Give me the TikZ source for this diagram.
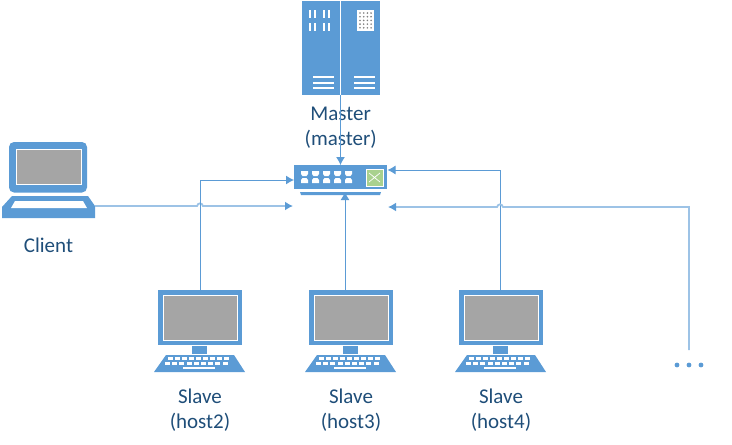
\documentclass[tikz,border=0pt]{standalone}
\usepackage{fontspec}
\setmainfont{Carlito}
\usetikzlibrary{positioning,arrows.meta}

\definecolor{iconblue}{HTML}{5B9BD5}
\definecolor{paleblue}{HTML}{9DC3E6}
\definecolor{screengray}{HTML}{A5A5A5}
\definecolor{labelblue}{HTML}{1F4E79}
\definecolor{portgreen}{HTML}{A9D18E}

\tikzset{
  iconbox/.style={fill=iconblue,inner sep=0pt,outer sep=0pt},
  screenbox/.style={fill=screengray,draw=white,line width=0.8pt,inner sep=0pt},
  hostlabel/.style={text=labelblue,align=center,font=\fontsize{21}{25}\selectfont,inner sep=0pt},
  link/.style={iconblue,line width=1pt,-{Latex[length=8pt,width=9pt]}},
  palelink/.style={paleblue,line width=1.8pt,-{Latex[length=8pt,width=9pt,color=iconblue]}},
}

% one slave machine, #1 name, #2 centre x
\newcommand{\slavepc}[2]{
  \node[iconbox,minimum width=84pt,minimum height=55pt] (#1) at (#2,317.5) {};
  \node[screenbox,minimum width=74pt,minimum height=45pt] (#1screen) at (#1.center) {};
  \begin{scope}[shift={(#2,0)}]
    \fill[iconblue] (-8,346) rectangle (7,354);
    \fill[iconblue] (-46,372) -- (45,372) -- (34,355) -- (-34,355) -- cycle;
    \foreach \k in {0,...,8} {
      \fill[white] (-32+\k*7,357) rectangle (-27+\k*7,360);
      \fill[white] (-35+\k*7.2,361.5) rectangle (-30+\k*7.2,364.5);
    }
    \fill[white] (-17,366.5) rectangle (15,369);
  \end{scope}
  \node[hostlabel,below=44pt of #1] (#1label) {Slave\\(#1)};
}

\begin{document}
\begin{tikzpicture}[x=1pt,y=-1pt]
  \useasboundingbox (0,0) rectangle (732,445);

  % master
  \node[iconbox,minimum width=78pt,minimum height=93.5pt] (master) at (340.7,48.2) {};
  \fill[white] (340,1) rectangle (341.2,96);
  \foreach \bx in {310,315,324,329} {
    \fill[white] (\bx-1.2,10) rectangle (\bx+1.2,18);
    \fill[white] (\bx-1.2,23) rectangle (\bx+1.2,31);
  }
  \foreach \by in {77,83,88} {
    \fill[white] (313,\by-0.7) rectangle (334,\by+0.7);
    \fill[white] (354,\by-0.7) rectangle (375,\by+0.7);
  }
  \fill[white] (357,10) rectangle (374,31);
  \foreach \bx in {0,...,3} \foreach \by in {0,...,4}
    \fill[gray] (360+\bx*3.7,13+\by*3.7) circle (0.9);
  \node[hostlabel,below=12pt of master] (masterlabel) {Master\\(master)};

  % switch
  \node[iconbox,minimum width=93pt,minimum height=24pt] (switch) at (340.5,177) {};
  \fill[iconblue] (300,192) -- (381,192) -- (380,195) -- (301,195) -- cycle;
  \foreach \k in {0,...,4} {
    \fill[white] (301+\k*11,171) -- (308+\k*11,171) -- (308+\k*11,174) -- (306.5+\k*11,176) -- (302.5+\k*11,176) -- (301+\k*11,174) -- cycle;
    \fill[white] (301+\k*11,183) -- (308+\k*11,183) -- (308+\k*11,180) -- (306.5+\k*11,178) -- (302.5+\k*11,178) -- (301+\k*11,180) -- cycle;
  }
  \node[fill=portgreen,draw=white,line width=0.8pt,minimum width=17pt,minimum height=17pt,inner sep=0pt] (swport) at (374.5,177.5) {};
  \draw[white,line width=0.7pt] (369,173) -- (380,182) (369,182) -- (380,173);

  % client
  \node[inner sep=0pt,outer sep=0pt,minimum width=93pt,minimum height=76pt] (client) at (48.5,180) {};
  \fill[iconblue,rounded corners=5pt] (9,192.5) -- (9,142) -- (87,142) -- (87,192.5) -- cycle;
  \node[screenbox,minimum width=65pt,minimum height=35pt] (clientscreen) at (48.5,166.5) {};
  \fill[iconblue] (12,196) -- (88,196) -- (95,206) -- (95,218) -- (2,218) -- (2,207) -- cycle;
  \fill[white] (15,201) -- (83,201) -- (87,208) -- (11,208) -- cycle;
  \node[hostlabel,below=20pt of client] (clientlabel) {Client};

  % slaves
  \slavepc{host2}{200}
  \slavepc{host3}{351}
  \slavepc{host4}{501}

  % the rest
  \node[inner sep=0pt,minimum width=30pt,minimum height=6pt] (more) at (689,365) {};
  \foreach \k in {-12,0,12}
    \fill[iconblue] (689+\k,365) circle (2.4);

  \coordinate (clientout) at ([yshift=-26pt]client.east);
  \coordinate (clientin) at (293,206);
  \coordinate (host3in) at (345,192);
  \coordinate (host4in) at (387.5,170);
  \coordinate (morein) at (388,207);
  \coordinate (moreout) at (689,350);

  \draw[palelink] (clientout) -- (197,206) .. controls (198,202.5) and (202,202.5) .. (203,206) -- (clientin);
  \draw[link] (master.south -| switch.north) -- (switch.north);
  \draw[link] (host2.north) |- ([yshift=-3pt]switch.west);
  \draw[link] ([xshift=-6pt]host3.north) -- (host3in);
  \draw[link] ([xshift=-1pt]host4.north) |- (host4in);
  \draw[palelink] (moreout) |- (503,207) .. controls (502,203.5) and (498,203.5) .. (497,207) -- (morein);
\end{tikzpicture}
\end{document}
